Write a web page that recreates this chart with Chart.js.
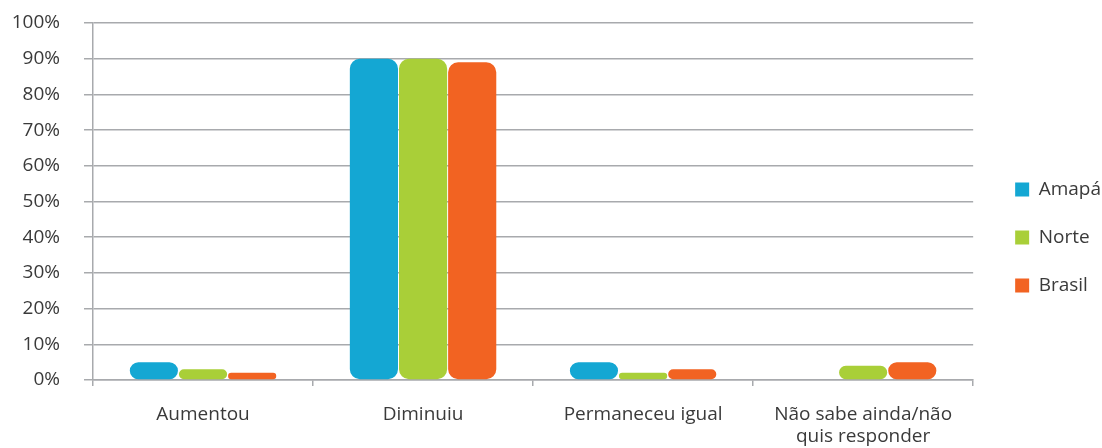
<!DOCTYPE html>
<html>
<head>
<meta charset="utf-8">
<script src="https://cdn.jsdelivr.net/npm/chart.js@4.4.1/dist/chart.umd.min.js"></script>
<style>
  html, body { margin: 0; padding: 0; background: #ffffff; }
  #wrap { width: 1102px; height: 448px; }
</style>
</head>
<body>
<div id="wrap"><canvas id="chart" width="1102" height="448"></canvas></div>
<script>
// Categories and values (percent)
const categories = ['Aumentou', 'Diminuiu', 'Permaneceu igual', ['Não sabe ainda/não', 'quis responder']];
const seriesNames = ['Amapá', 'Norte', 'Brasil'];
const amapa = [5, 90, 5, 0];
const norte = [3, 90, 2, 4];
const brasil = [2, 89, 3, 5];
const yTicks = [0, 10, 20, 30, 40, 50, 60, 70, 80, 90, 100];

const colors = ['#14a7d3', '#a9cf38', '#f26322'];
const gridColor = '#a8aaad';
const textColor = '#3a3a3a';
const fontFamily = '"Open Sans", Roboto, sans-serif';

// Moves the right-hand legend column into place
const legendShift = {
  id: 'legendShift',
  afterLayout(chart) {
    const lg = chart.legend;
    if (!lg) return;
    const dx = 13, dy = 2;
    lg.left += dx; lg.right += dx;
    lg.top += dy; lg.bottom += dy;
  }
};

const ctx = document.getElementById('chart').getContext('2d');
new Chart(ctx, {
  type: 'bar',
  data: {
    labels: categories,
    datasets: [amapa, norte, brasil].map((vals, i) => ({
      label: seriesNames[i],
      data: vals,
      backgroundColor: colors[i],
      borderRadius: 10,
      borderSkipped: false,
      categoryPercentage: 0.67,
      barPercentage: 0.98
    }))
  },
  options: {
    responsive: false,
    animation: false,
    layout: { padding: { top: 23, left: 12, right: 4, bottom: 0 } },
    plugins: {
      legend: {
        position: 'right',
        labels: {
          boxWidth: 14,
          boxHeight: 14,
          padding: 29,
          color: textColor,
          font: { family: fontFamily, size: 19 }
        }
      },
      tooltip: { enabled: false }
    },
    scales: {
      x: {
        afterFit(scale) {
          scale.height = 68;
          scale.paddingLeft = 0;
          scale.paddingRight = 0;
        },
        grid: {
          display: true,
          drawOnChartArea: false,
          drawTicks: true,
          tickLength: 6,
          offset: true,
          color: gridColor,
          lineWidth: 1.5
        },
        border: { display: true, color: gridColor, width: 1.5 },
        ticks: {
          color: textColor,
          padding: 18,
          maxRotation: 0,
          autoSkip: false,
          font: { family: fontFamily, size: 19, lineHeight: 1.15 }
        }
      },
      y: {
        min: 0,
        max: 100,
        afterBuildTicks(scale) { scale.ticks = yTicks.map(v => ({ value: v })); },
        afterFit(scale) {
          scale.width = 81;
          scale.paddingTop = 0;
          scale.paddingBottom = 0;
        },
        grid: {
          color: gridColor,
          lineWidth: 1.5,
          tickLength: 9,
          drawTicks: true
        },
        border: { display: true, color: gridColor, width: 1.5 },
        ticks: {
          color: textColor,
          padding: 24,
          font: { family: fontFamily, size: 19 },
          callback: v => v + '%'
        }
      }
    }
  },
  plugins: [legendShift]
});
</script>
</body>
</html>
